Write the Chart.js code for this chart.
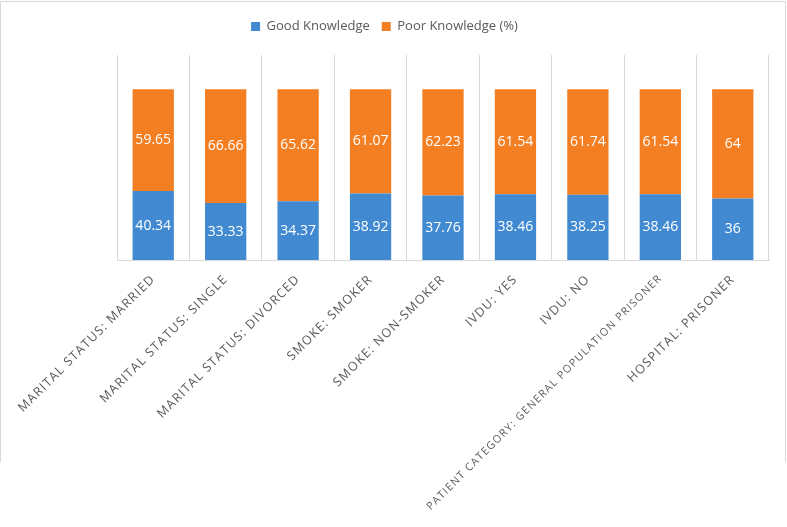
<!DOCTYPE html>
<html>
<head>
<meta charset="utf-8">
<script src="https://cdn.jsdelivr.net/npm/chart.js@4.4.1/dist/chart.umd.min.js"></script>
<style>
  body { margin: 0; background: #fff; }
</style>
</head>
<body>
<canvas id="knowledgeChart" width="787" height="527"></canvas>
<script>
var categories = [
  'MARITAL STATUS: MARRIED',
  'MARITAL STATUS: SINGLE',
  'MARITAL STATUS: DIVORCED',
  'SMOKE: SMOKER',
  'SMOKE: NON-SMOKER',
  'IVDU: YES',
  'IVDU: NO',
  'PATIENT CATEGORY: GENERAL POPULATION PRISONER',
  'HOSPITAL: PRISONER'
];
var goodKnowledge = [40.34, 33.33, 34.37, 38.92, 37.76, 38.46, 38.25, 38.46, 36];
var poorKnowledge = [59.65, 66.66, 65.62, 61.07, 62.23, 61.54, 61.74, 61.54, 64];

var gridColor = '#d9d9d9';
var textColor = '#595959';

// white value labels in the middle of each segment
var valueLabels = {
  id: 'valueLabels',
  afterDatasetsDraw: function(chart) {
    var ctx = chart.ctx;
    ctx.save();
    ctx.fillStyle = '#ffffff';
    ctx.font = '14px "Open Sans"';
    ctx.textAlign = 'center';
    ctx.textBaseline = 'middle';
    chart.data.datasets.forEach(function(ds, i) {
      chart.getDatasetMeta(i).data.forEach(function(bar, j) {
        ctx.fillText(String(ds.data[j]), bar.x, (bar.y + bar.base) / 2);
      });
    });
    ctx.restore();
  }
};

// frame around the chart, extra room under the legend, spaced axis labels
var frame = {
  id: 'frame',
  beforeInit: function(chart) {
    var fit = chart.legend.fit;
    chart.legend.fit = function() {
      fit.bind(chart.legend)();
      this.height += 12;
    };
  },
  afterUpdate: function(chart) {
    var sc = chart.scales.x;
    if (!sc._spaced) {
      var orig = sc.drawLabels;
      sc.drawLabels = function(area) {
        this.ctx.save();
        this.ctx.letterSpacing = '1.2px';
        orig.call(this, area);
        this.ctx.restore();
      };
      sc._spaced = true;
    }
  },
  beforeDraw: function(chart) {
    var ctx = chart.ctx;
    ctx.save();
    ctx.strokeStyle = gridColor;
    ctx.lineWidth = 1;
    ctx.beginPath();
    ctx.moveTo(0.5, 462);
    ctx.lineTo(0.5, 1.5);
    ctx.lineTo(785.5, 1.5);
    ctx.lineTo(785.5, 462);
    ctx.stroke();
    ctx.restore();
  }
};

var chartdata = {
  labels: categories,
  datasets: [
    {
      label: 'Good Knowledge',
      backgroundColor: '#418ad2',
      data: goodKnowledge,
      barPercentage: 0.57,
      categoryPercentage: 1
    },
    {
      label: 'Poor Knowledge (%)',
      backgroundColor: '#f47e22',
      data: poorKnowledge,
      barPercentage: 0.57,
      categoryPercentage: 1
    }
  ]
};

var ctx = document.getElementById('knowledgeChart');

var barGraph = new Chart(ctx, {
  type: 'bar',
  data: chartdata,
  plugins: [valueLabels, frame],
  options: {
    responsive: false,
    animation: false,
    layout: { padding: { top: 8, right: 18, left: 0, bottom: 0 } },
    plugins: {
      tooltip: { enabled: false },
      legend: {
        position: 'top',
        labels: {
          boxWidth: 9,
          boxHeight: 9,
          padding: 12,
          color: textColor,
          font: { family: 'Open Sans', size: 13 }
        }
      }
    },
    scales: {
      x: {
        stacked: true,
        grid: { color: gridColor, drawTicks: false },
        border: { color: gridColor },
        ticks: {
          color: textColor,
          font: function(c) {
            // the long label is set smaller in the original
            return { family: 'Open Sans', size: c.index === 7 ? 10.7 : 12.5 };
          },
          minRotation: 45,
          maxRotation: 45,
          padding: 12
        },
        afterFit: function(s) {
          s.height = 267;
          s.paddingLeft = 117;
        }
      },
      y: {
        stacked: true,
        display: false,
        min: 0,
        max: 120
      }
    }
  }
});
</script>
</body>
</html>
